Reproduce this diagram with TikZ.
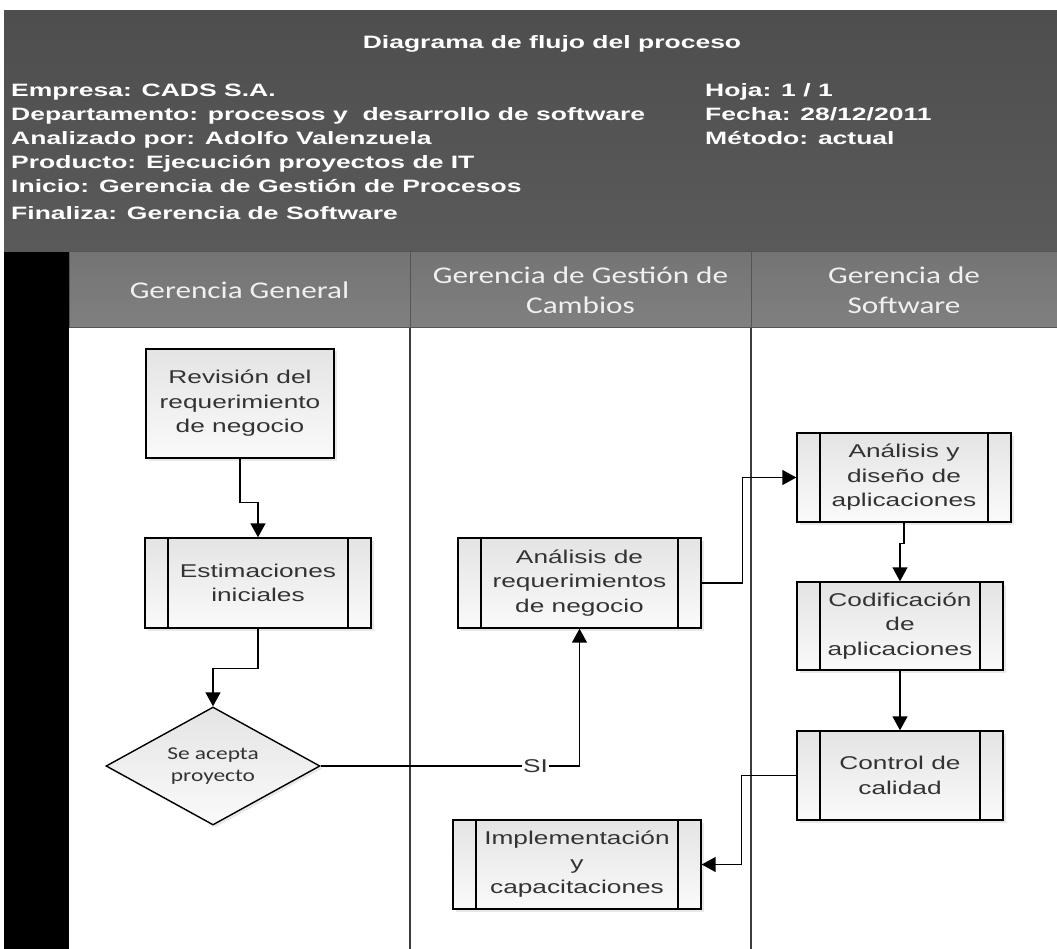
\documentclass[tikz,border=0pt]{standalone}
\usepackage{fontspec}
\setmainfont{Liberation Sans}
\newfontfamily\hdrfont[FakeStretch=1.48]{Liberation Sans}
\newfontfamily\boxfont[FakeStretch=1.42]{Liberation Sans}
\newfontfamily\lanefont[FakeStretch=1.3]{Carlito}
\usetikzlibrary{arrows.meta,shapes.geometric,shadows}

\definecolor{hdrtop}{HTML}{4E4E4E}
\definecolor{hdrbot}{HTML}{5A5A5A}
\definecolor{lanetop}{HTML}{747474}
\definecolor{lanebot}{HTML}{808080}
\definecolor{laneedge}{HTML}{555555}
\definecolor{lanetext}{HTML}{F0F0F0}
\definecolor{boxtop}{HTML}{E4E4E4}
\definecolor{boxbot}{HTML}{FAFAFA}
\definecolor{boxtext}{HTML}{333333}
\definecolor{divider}{HTML}{3C3C3C}

\tikzset{
  hdrtext/.style={text=white, inner sep=0pt, font={\hdrfont\bfseries\fontsize{17.9}{23.3}\selectfont}},
  lanehead/.style={draw=laneedge, line width=1pt, top color=lanetop, bottom color=lanebot},
  lanelabel/.style={text=lanetext, align=center, inner sep=0pt, font={\lanefont\fontsize{24}{30}\selectfont}},
  divline/.style={draw=divider, line width=1.2pt},
  boxbase/.style={draw=black, line width=1.4pt, top color=boxtop, bottom color=boxbot,
    inner sep=0pt, align=center, text=boxtext, font={\boxfont\fontsize{18.5}{24.5}\selectfont},
    drop shadow={shadow xshift=2.5pt, shadow yshift=-2.5pt, opacity=0.18}},
  plainbox/.style={boxbase, rectangle},
  subproc/.style={boxbase, rectangle, path picture={
    \draw[line width=1.4pt] ([xshift=23pt]path picture bounding box.north west) -- ([xshift=23pt]path picture bounding box.south west);
    \draw[line width=1.4pt] ([xshift=-23pt]path picture bounding box.north east) -- ([xshift=-23pt]path picture bounding box.south east);}},
  decision/.style={boxbase, diamond, aspect=1.81, font={\lanefont\fontsize{18}{22}\selectfont}},
  flow/.style={draw=black, line width=1.5pt, -{Triangle[width=15pt,length=14pt]}},
  silabel/.style={fill=white, inner sep=1pt, text=boxtext, font={\boxfont\fontsize{18.5}{22}\selectfont}}
}

\begin{document}
\begin{tikzpicture}[x=1pt,y=-1pt]
\useasboundingbox (0,0) rectangle (1057,949);
\fill[white] (0,0) rectangle (1057,949);

% title block
\shade[top color=hdrtop, bottom color=hdrbot] (4,11) rectangle (1057,252);
\node[hdrtext, anchor=base] (title) at (552,49) {Diagrama de flujo del proceso};
\node[hdrtext, anchor=base west] (empresa) at (11,97) {Empresa: CADS S.A.};
\node[hdrtext, anchor=base west] (depto) at (11,121) {Departamento: procesos y \ desarrollo de software};
\node[hdrtext, anchor=base west] (analiza) at (11,145) {Analizado por: Adolfo Valenzuela};
\node[hdrtext, anchor=base west] (producto) at (11,169) {Producto: Ejecución proyectos de IT};
\node[hdrtext, anchor=base west] (inicio) at (11,193) {Inicio: Gerencia de Gestión de Procesos};
\node[hdrtext, anchor=base west] (finaliza) at (11,220) {Finaliza: Gerencia de Software};
\node[hdrtext, anchor=base west] (hoja) at (705,97) {Hoja: 1 / 1};
\node[hdrtext, anchor=base west] (fecha) at (705,121) {Fecha: 28/12/2011};
\node[hdrtext, anchor=base west] (metodo) at (705,145) {Método: actual};

% pool side bar and lane headers
\fill[black] (4,252) rectangle (69,949);
\path[lanehead] (69,252) rectangle (410,328);
\path[lanehead] (410,252) rectangle (751,328);
\path[lanehead] (751,252) rectangle (1057,328);
\node[lanelabel] (lane1) at (239.5,290) {Gerencia General};
\node[lanelabel] (lane2) at (580.5,290) {Gerencia de Gestión de\\Cambios};
\node[lanelabel] (lane3) at (904,290) {Gerencia de\\Software};

% lane separators
\draw[divline] (410,328) -- (410,949);
\draw[divline] (751,328) -- (751,949);

% activities
\node[plainbox, minimum width=188pt, minimum height=109pt] (rev) at (240,403.5) {Revisión del\\requerimiento\\de negocio};
\node[subproc, minimum width=226pt, minimum height=90pt] (est) at (258,583) {Estimaciones\\iniciales};
\node[decision, minimum width=214pt, minimum height=118pt] (dec) at (213,766) {Se acepta\\proyecto};
\node[subproc, minimum width=243pt, minimum height=90pt] (areq) at (579.5,583) {Análisis de\\requerimientos\\de negocio};
\node[subproc, minimum width=214pt, minimum height=89pt] (ady) at (904,477.5) {Análisis y\\diseño de\\aplicaciones};
\node[subproc, minimum width=206pt, minimum height=88pt] (cod) at (900,626) {Codificación\\de\\aplicaciones};
\node[subproc, minimum width=206pt, minimum height=89pt] (ctl) at (900,775.5) {Control de\\calidad};
\node[subproc, minimum width=248pt, minimum height=89pt] (imp) at (577,864.5) {Implementación\\y\\capacitaciones};

% flow
\draw[flow] (rev.south) -- ++(0,44) -| (est.north);
\draw[flow] (est.south) -- ++(0,40) -| (dec.north);
\draw[flow] (dec.east) -- node[silabel, pos=0.83] (si) {SI} (dec.east -| areq.south) -- (areq.south);
\draw[flow] (areq.east) -- ++(41,0) |- (ady.west);
\draw[flow] (ady.south) -- ++(0,21) -| (cod.north);
\draw[flow] (cod.south) -- (ctl.north);
\draw[flow] (ctl.west) -- ++(-55,0) |- (imp.east);
\end{tikzpicture}
\end{document}
